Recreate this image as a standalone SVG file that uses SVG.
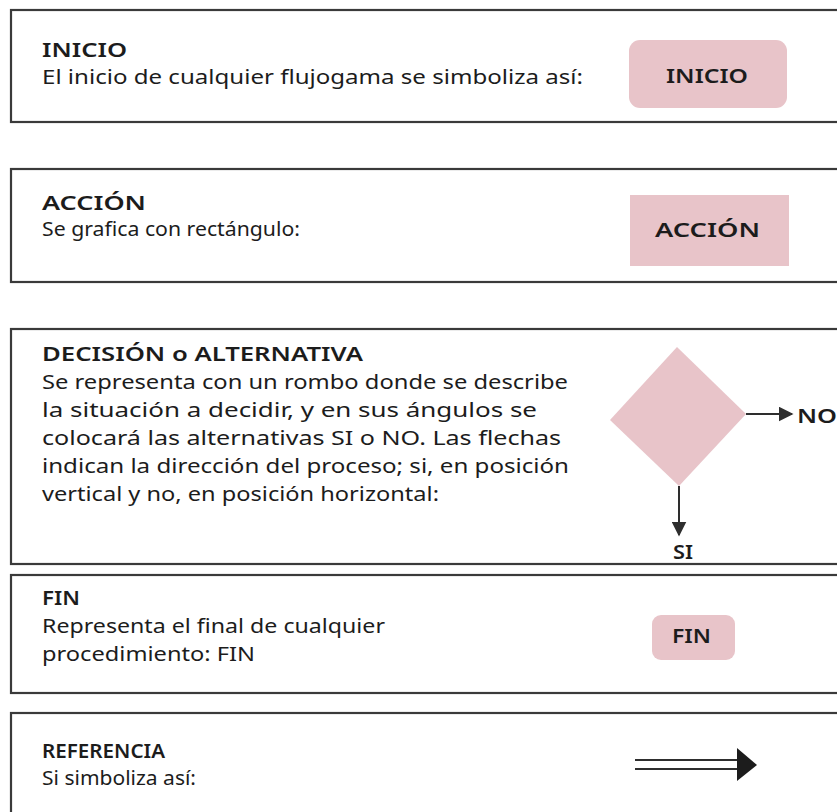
<svg xmlns="http://www.w3.org/2000/svg" width="837" height="812" viewBox="0 0 837 812">
<style>
.box{fill:#fff;stroke:#3a3a3a;stroke-width:2.2}
.sym{fill:#e8c4c9}
.t{font-family:"Noto Sans","Liberation Sans",sans-serif;font-size:19px;fill:#1c1c1c}
.h{font-family:"Noto Sans","Liberation Sans",sans-serif;font-size:19px;font-weight:600;fill:#1c1c1c}
.ln{stroke:#2e2e2e;stroke-width:2;fill:none}
</style>
<defs>
<marker id="ah" viewBox="0 0 10 10" refX="9" refY="5" markerWidth="15" markerHeight="15" markerUnits="userSpaceOnUse" orient="auto">
<path d="M0,0 L10,5 L0,10 z" fill="#2e2e2e"/>
</marker>
</defs>
<rect width="837" height="812" fill="#fff"/>

<g id="inicio">
<rect class="box" x="11" y="10" width="840" height="112"/>
<text class="h" x="42" y="57" textLength="85" lengthAdjust="spacingAndGlyphs">INICIO</text>
<text class="t" x="42" y="84" textLength="541" lengthAdjust="spacingAndGlyphs">El inicio de cualquier flujogama se simboliza así:</text>
<rect class="sym" x="629" y="40" width="158" height="68" rx="11"/>
<text class="h" x="666" y="83" textLength="82" lengthAdjust="spacingAndGlyphs">INICIO</text>
</g>

<g id="accion">
<rect class="box" x="11" y="169" width="840" height="113"/>
<text class="h" x="42" y="210" textLength="104" lengthAdjust="spacingAndGlyphs">ACCIÓN</text>
<text class="t" x="42" y="236" textLength="258" lengthAdjust="spacingAndGlyphs">Se grafica con rectángulo:</text>
<rect class="sym" x="630" y="195" width="159" height="71"/>
<text class="h" x="655" y="237" textLength="105" lengthAdjust="spacingAndGlyphs">ACCIÓN</text>
</g>

<g id="decision">
<rect class="box" x="11" y="329" width="840" height="235"/>
<text class="h" x="42" y="361" textLength="321" lengthAdjust="spacingAndGlyphs">DECISIÓN o ALTERNATIVA</text>
<text class="t" x="42" y="389" textLength="526" lengthAdjust="spacingAndGlyphs">Se representa con un rombo donde se describe</text>
<text class="t" x="42" y="417" textLength="495" lengthAdjust="spacingAndGlyphs">la situación a decidir, y en sus ángulos se</text>
<text class="t" x="42" y="445" textLength="519" lengthAdjust="spacingAndGlyphs">colocará las alternativas SI o NO. Las flechas</text>
<text class="t" x="42" y="473" textLength="527" lengthAdjust="spacingAndGlyphs">indican la dirección del proceso; si, en posición</text>
<text class="t" x="42" y="501" textLength="397" lengthAdjust="spacingAndGlyphs">vertical y no, en posición horizontal:</text>
<polygon class="sym" points="677,347 746,414 679,486 610,420"/>
<text class="h" x="797" y="423" textLength="40" lengthAdjust="spacingAndGlyphs">NO</text>
<text class="h" x="673" y="559" textLength="20" lengthAdjust="spacingAndGlyphs">SI</text>
</g>

<g id="fin">
<rect class="box" x="11" y="575" width="840" height="118"/>
<text class="h" x="42" y="605" textLength="38" lengthAdjust="spacingAndGlyphs">FIN</text>
<text class="t" x="42" y="633" textLength="343" lengthAdjust="spacingAndGlyphs">Representa el final de cualquier</text>
<text class="t" x="42" y="661" textLength="213" lengthAdjust="spacingAndGlyphs">procedimiento: FIN</text>
<rect class="sym" x="652" y="615" width="83" height="45" rx="9"/>
<text class="h" x="672" y="643" textLength="39" lengthAdjust="spacingAndGlyphs">FIN</text>
</g>

<g id="referencia">
<rect class="box" x="11" y="713" width="840" height="120"/>
<text class="h" x="42" y="758" textLength="123" lengthAdjust="spacingAndGlyphs">REFERENCIA</text>
<text class="t" x="42" y="785" textLength="154" lengthAdjust="spacingAndGlyphs">Si simboliza así:</text>
<line class="ln" x1="635" y1="760" x2="738" y2="760" stroke-width="3"/>
<line class="ln" x1="635" y1="769" x2="738" y2="769" stroke-width="3"/>
<polygon points="737,748 757,765 737,781" fill="#1c1c1c"/>
</g>

<g id="connectors">
<line class="ln" x1="746" y1="414" x2="792" y2="414" marker-end="url(#ah)"/>
<line class="ln" x1="679" y1="486" x2="679" y2="535" marker-end="url(#ah)"/>
</g>
</svg>
